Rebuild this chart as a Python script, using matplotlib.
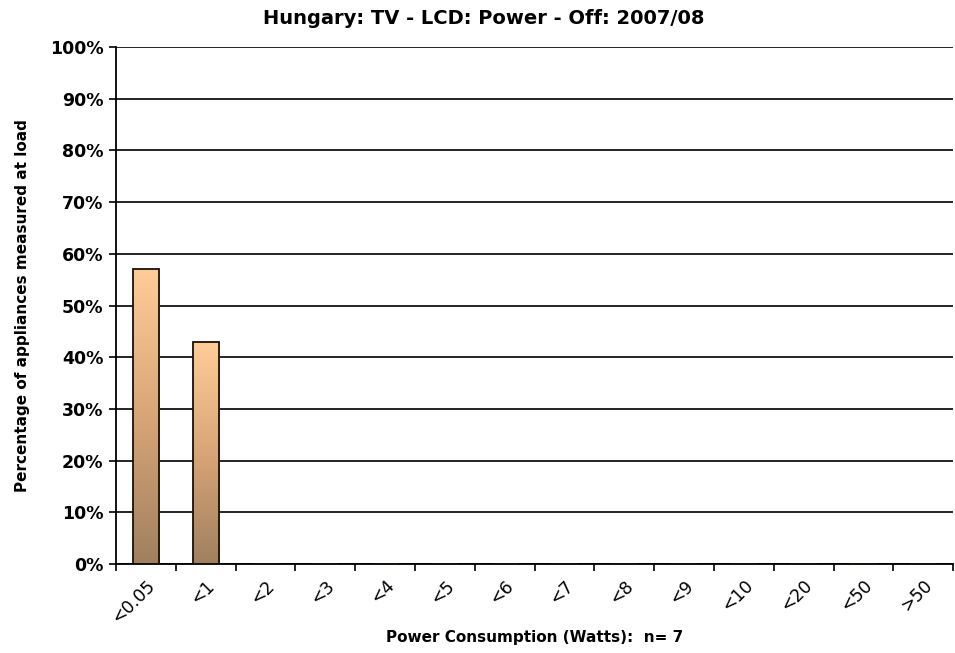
import matplotlib
matplotlib.use("Agg")
import matplotlib.pyplot as plt
import numpy as np
from matplotlib.colors import LinearSegmentedColormap
from matplotlib.ticker import FuncFormatter, FixedLocator

categories = ["<0.05", "<1", "<2", "<3", "<4", "<5", "<6", "<7", "<8", "<9", "<10", "<20", "<50", ">50"]
values = [57.14, 42.86, 0, 0, 0, 0, 0, 0, 0, 0, 0, 0, 0, 0]
title = "Hungary: TV - LCD: Power - Off: 2007/08"
xlabel = "Power Consumption (Watts):  n= 7"
ylabel = "Percentage of appliances measured at load"

plt.rcParams['font.family'] = ['DejaVu Sans']

fig = plt.figure(figsize=(9.55, 6.53), dpi=100)
ax = fig.add_axes([0.1215, 0.1363, 0.8765, 0.7917])

x = np.arange(len(categories))
bars = ax.bar(x, values, width=0.44, facecolor='none', edgecolor='#1a1008', linewidth=1.3, zorder=3)

cmap = LinearSegmentedColormap.from_list("g", ["#a0805f", "#d8a577", "#ffcc99"])
grad = np.linspace(0, 1, 256).reshape(-1, 1)
for b in bars:
    h = b.get_height()
    if h <= 0:
        continue
    x0 = b.get_x()
    w = b.get_width()
    im = ax.imshow(grad, cmap=cmap, aspect='auto', origin='lower',
                   extent=[x0, x0 + w, 0, h], zorder=2)
    im.set_clip_path(b)

ax.set_xlim(-0.5, len(categories) - 0.5)
ax.set_ylim(0, 100)
ax.set_yticks(np.arange(0, 101, 10))
ax.yaxis.set_major_formatter(FuncFormatter(lambda v, p: f"{int(v)}%"))
ax.yaxis.grid(True, color='black', linewidth=1.2, zorder=1)
ax.set_axisbelow(True)

ax.set_xticks(x)
ax.set_xticklabels(categories, rotation=45, ha='right', va='top', fontsize=12.5,
                   rotation_mode='anchor')
ax.xaxis.set_minor_locator(FixedLocator(np.arange(-0.5, len(categories), 1)))
ax.tick_params(axis='x', which='major', length=0, pad=9)
ax.tick_params(axis='x', which='minor', length=5, width=1.2, direction='out')
ax.tick_params(axis='y', length=5, width=1.2, direction='out', labelsize=12.5, pad=4)
for lab in ax.get_yticklabels():
    lab.set_fontweight('bold')

for s in ['top', 'right']:
    ax.spines[s].set_visible(False)
ax.spines['left'].set_linewidth(1.3)
ax.spines['bottom'].set_linewidth(1.3)

fig.text(0.507, 1 - 18 / 653, title, fontsize=14, fontweight='bold', ha='center', va='center')
ax.set_xlabel(xlabel, fontsize=11, fontweight='bold', labelpad=2)
ax.set_ylabel(ylabel, fontsize=11, fontweight='bold', labelpad=14)

fig.savefig("out.png", dpi=100)
